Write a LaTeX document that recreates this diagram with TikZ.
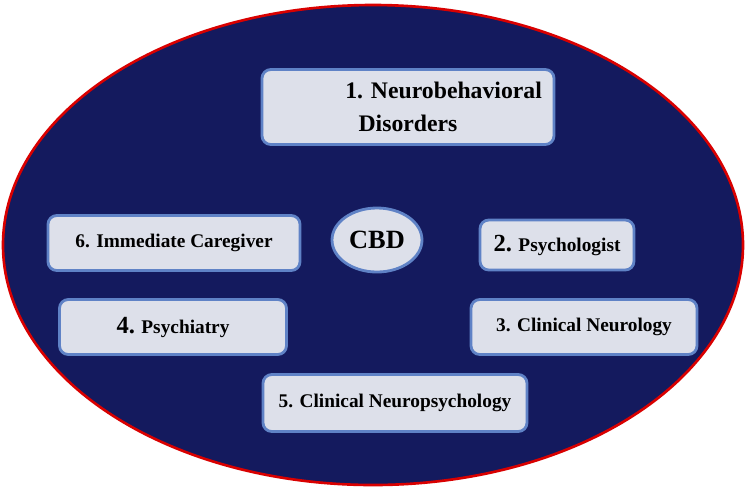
\documentclass[tikz,border=0pt]{standalone}
\usepackage{fontspec}
\setmainfont{Liberation Serif}
\usetikzlibrary{shapes.geometric}
\definecolor{navy}{HTML}{141A5E}
\definecolor{boxfill}{HTML}{DDE0EA}
\definecolor{boxline}{HTML}{5F82C6}
\tikzset{
  topic/.style={draw=boxline, line width=1.6pt, fill=boxfill, rounded corners=5pt,
    font=\bfseries\fontsize{11}{13}\selectfont, align=center, inner sep=0pt},
  big/.style={font=\bfseries\fontsize{14}{17}\selectfont}
}
\begin{document}
\begin{tikzpicture}[x=0.02cm,y=-0.02cm]
\useasboundingbox (0,0) rectangle (747,488);
\fill[white] (0,0) rectangle (747,488);
\draw[red!85!black, line width=1.5pt, fill=navy] (373,245) ellipse[x radius=370, y radius=240];
\node[topic, minimum width=292*0.02cm, minimum height=75*0.02cm, font=\bfseries\fontsize{13.5}{19}\selectfont] (neuro) at (408,107) {\hspace*{3em}1. Neurobehavioral\\Disorders};
\node[topic, minimum width=252*0.02cm, minimum height=55*0.02cm] (care) at (174,243) {6. Immediate Caregiver};
\node[draw=boxline, line width=1.6pt, fill=boxfill, ellipse, minimum width=90*0.02cm, minimum height=64*0.02cm, font=\bfseries\fontsize{15}{17}\selectfont, inner sep=0pt] (cbd) at (377,240) {CBD};
\node[topic, minimum width=154*0.02cm, minimum height=50*0.02cm] (psych) at (557,245) {{\fontsize{14}{17}\selectfont 2.} Psychologist};
\node[topic, minimum width=227*0.02cm, minimum height=55*0.02cm] (psychiatry) at (173,327) {{\fontsize{14}{17}\selectfont 4.} Psychiatry};
\node[topic, minimum width=226*0.02cm, minimum height=55*0.02cm] (neurol) at (584,327) {3. Clinical Neurology};
\node[topic, minimum width=264*0.02cm, minimum height=57*0.02cm] (neuropsy) at (395,403) {5. Clinical Neuropsychology};
\end{tikzpicture}
\end{document}
